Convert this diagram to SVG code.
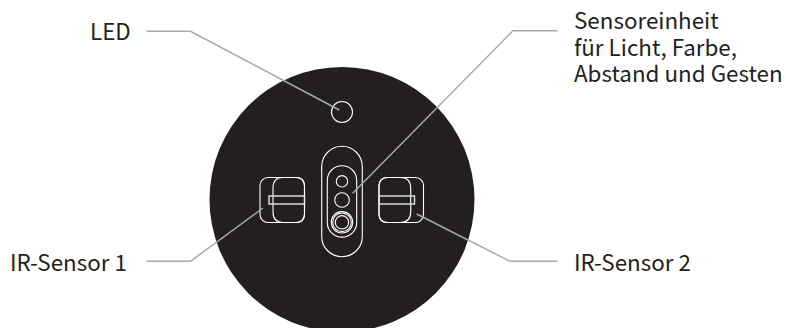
<svg xmlns="http://www.w3.org/2000/svg" width="786" height="328" viewBox="0 0 786 328">
<style>
text{font-family:"Noto Sans CJK SC","Noto Sans",sans-serif;font-size:22.400px;fill:#231f20}
.w{fill:none;stroke:#fff;stroke-width:1.1}
.wd{fill:none;stroke:#e6e6e6;stroke-width:1.4}
.c{fill:none;stroke:#a3aab2;stroke-width:1.500}
</style>
<rect width="786" height="328" fill="#fff"/>
<g id="body"><circle cx="342" cy="199.500" r="132.500" fill="#231f20"/></g>
<g id="led"><circle class="w" cx="342" cy="112" r="10.5"/></g>
<g id="sensor-unit">
<rect class="w" x="321.700" y="146.300" width="40.600" height="110.400" rx="20.300"/>
<rect class="w" x="327.300" y="165.700" width="29.400" height="71.400" rx="14.700"/>
<circle class="w" cx="342" cy="181.300" r="5.700"/>
<circle class="w" cx="342" cy="200" r="7.300"/>
<circle class="w" cx="342" cy="222.300" r="10.700"/>
<circle class="w" cx="342" cy="222.300" r="9.300"/>
<circle class="w" cx="342" cy="222.300" r="6.700"/>
</g>
<g id="ir-sensor-1">
<rect class="w" x="260" y="177.500" width="44.500" height="45" rx="8"/>
<path class="w" d="M304.500 186V214Q304.500 222.500 296 222.500H283Q273 222.500 273 212V188Q273 177.500 283 177.500H296Q304.500 177.500 304.500 186Z"/>
<rect class="wd" x="269" y="196" width="35.500" height="8"/>
</g>
<g id="ir-sensor-2">
<rect class="w" x="379" y="177.500" width="44.500" height="45" rx="8"/>
<path class="w" d="M379 186V214Q379 222.500 387.500 222.500H400Q410.700 222.500 410.700 212V188Q410.700 177.500 400 177.500H387.500Q379 177.500 379 186Z"/>
<rect class="wd" x="379" y="196" width="35.500" height="8"/>
</g>
<g id="connectors">
<path class="c" d="M146.500 31.300H190.500L339.300 110"/>
<path class="c" d="M557.500 30.700H513L352.700 193.300"/>
<path class="c" d="M146.500 261.300H190.500L263 208"/>
<path class="c" d="M557.500 261.300H510L416.700 214"/>
</g>
<g id="labels">
<text x="90" y="40">LED</text>
<text x="574" y="29">Sensoreinheit</text>
<text x="574" y="55.500">für Licht, Farbe,</text>
<text x="574" y="82">Abstand und Gesten</text>
<text x="10" y="271">IR-Sensor 1</text>
<text x="574" y="271">IR-Sensor 2</text>
</g>
</svg>
